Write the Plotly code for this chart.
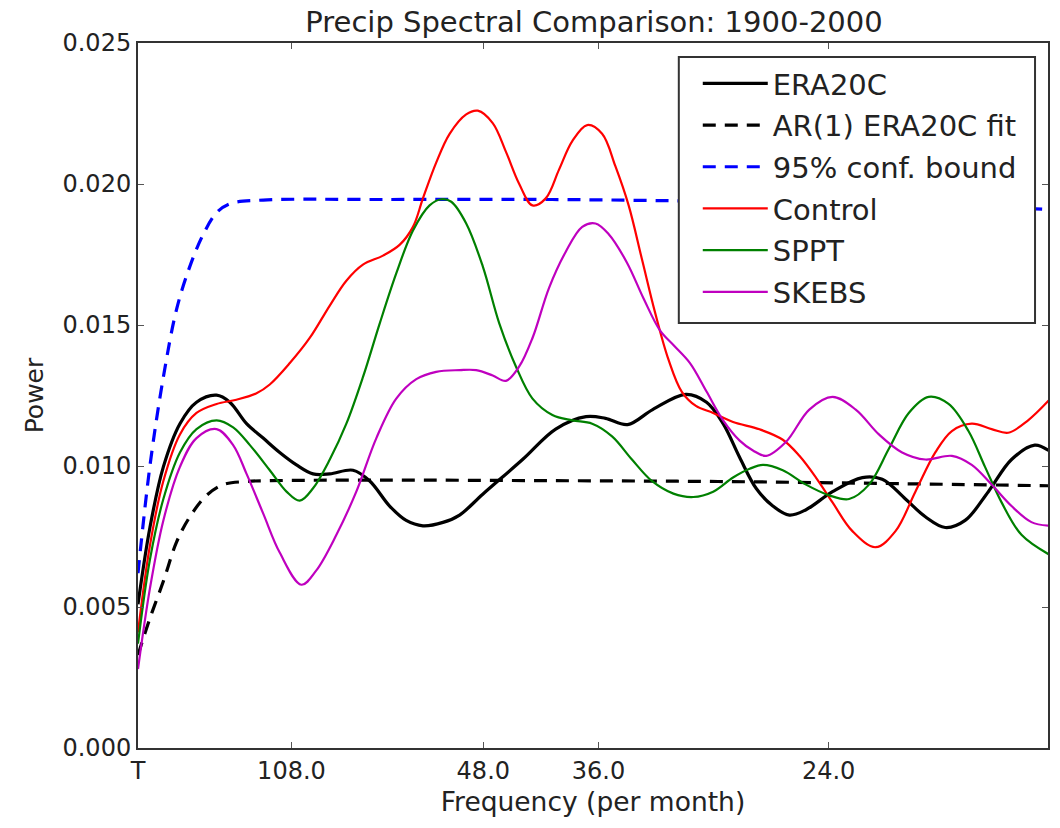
import numpy as np
import plotly.graph_objects as go

# frequencies in units of 1e-3 cycles/month, power in units of 1e-3
era_f = [0, 0.72, 1.53, 2.53, 3.53, 4.74, 5.54, 6.55, 7.55, 8.55, 9.56, 10.56, 11.57, 12.97, 13.98,
         15.18, 16.18, 17.19, 18.4, 19.4, 20.8, 23.2, 25.2, 27.03, 28.2, 29.54, 31.05, 33.05, 34.3,
         35.3, 36.3, 37.3, 38.3, 39.3, 40.3, 41.9, 43.7, 44.9, 46.3, 47.5, 48.7, 49.9, 51.3, 52.7,
         54.1, 54.94]
era_p = [5.1, 7.82, 9.97, 11.5, 12.26, 12.51, 12.26, 11.5, 10.99, 10.48, 10.04, 9.72, 9.72, 9.85, 9.47,
         8.58, 8.07, 7.88, 8.0, 8.26, 9.0, 10.23, 11.31, 11.75, 11.69, 11.47, 12.0, 12.54, 12.26,
         11.5, 10.3, 9.2, 8.58, 8.26, 8.45, 9.09, 9.59, 9.53, 8.83, 8.2, 7.82, 8.07, 9.09, 10.23,
         10.74, 10.55]

ar1_f = [0, 0.72, 1.53, 2.33, 3.13, 4.14, 5.14, 6.5, 8.0, 15, 25, 35, 45, 54.94]
ar1_p = [3.3, 4.6, 5.91, 7.31, 8.2, 8.96, 9.34, 9.45, 9.48, 9.5, 9.48, 9.45, 9.38, 9.3]

conf_f = [0, 0.72, 1.53, 2.33, 3.13, 3.94, 4.74, 5.54, 7.55, 15, 25, 33, 40, 48, 54.94]
conf_p = [6.2, 10.0, 13.15, 15.56, 17.08, 18.22, 18.98, 19.3, 19.43, 19.45, 19.45, 19.4, 19.35, 19.25, 19.1]

ctl_f = [0, 0.72, 1.53, 2.53, 3.53, 4.74, 5.94, 7.15, 7.95, 9.16, 10.36, 11.57, 12.57, 13.57, 14.78,
         15.78, 16.59, 17.19, 17.99, 18.8, 19.8, 20.5, 21.4, 22.2, 23.0, 23.8, 24.6, 25.4, 26.2,
         27.1, 28.0, 28.8, 29.6, 30.4, 31.2, 32.0, 32.8, 33.66, 34.7, 35.9, 37.5, 38.9, 39.9, 40.9,
         41.9, 43.1, 44.5, 45.7, 46.9, 48.1, 49.1, 50.3, 51.5, 52.5, 53.7, 54.94]
ctl_p = [4.1, 7.18, 9.47, 11.12, 11.88, 12.2, 12.35, 12.58, 12.89, 13.65, 14.54, 15.69, 16.57, 17.14, 17.46,
         17.84, 18.48, 19.49, 20.76, 21.78, 22.47, 22.6, 22.16, 21.14, 20.0, 19.24, 19.49, 20.51, 21.52,
         22.09, 21.78, 20.63, 19.24, 17.34, 15.43, 13.78, 12.64, 12.13, 11.88, 11.56, 11.3, 10.93, 10.36, 9.59,
         8.71, 7.69, 7.12, 7.69, 9.09, 10.48, 11.24, 11.5, 11.31, 11.18, 11.62, 12.32]

sppt_f = [0, 0.72, 1.53, 2.53, 3.53, 4.74, 5.74, 6.75, 7.95, 8.96, 9.76, 10.56, 11.57, 12.57, 13.57,
          14.58, 15.58, 16.59, 17.59, 18.3, 18.9, 19.8, 20.8, 21.8, 22.8, 23.8, 25.0, 26.2, 27.4,
          28.6, 29.8, 31.0, 32.3, 33.5, 34.7, 35.9, 36.9, 37.7, 38.9, 40.3, 41.7, 42.9, 44.1, 45.3,
          46.5, 47.7, 48.9, 50.1, 51.1, 52.1, 53.3, 54.94]
sppt_p = [3.7, 6.68, 8.83, 10.48, 11.31, 11.62, 11.37, 10.74, 9.85, 9.09, 8.77, 9.21, 10.23, 11.5, 13.15,
          15.05, 16.83, 18.35, 19.24, 19.46, 19.37, 18.6, 17.08, 15.05, 13.53, 12.39, 11.81, 11.62, 11.5,
          11.05, 10.23, 9.47, 9.02, 8.9, 9.09, 9.59, 9.9, 10.04, 9.85, 9.34, 8.96, 8.83, 9.34, 10.61,
          11.88, 12.45, 12.2, 11.24, 9.97, 8.71, 7.56, 6.87]

skebs_f = [0, 0.72, 1.53, 2.53, 3.53, 4.74, 5.74, 6.55, 7.55, 8.55, 9.86, 10.76, 11.97, 13.17, 14.38,
           15.58, 16.79, 17.99, 19.4, 20.4, 21.4, 22.2, 23.0, 23.8, 24.8, 25.8, 26.8, 27.6, 28.4,
           29.5, 30.5, 31.5, 32.3, 33.3, 34.3, 35.3, 36.3, 37.1, 37.9, 39.1, 40.5, 41.9, 43.3, 44.7,
           46.1, 47.5, 49.1, 50.3, 51.5, 52.7, 53.9, 54.94]
skebs_p = [2.8, 5.66, 8.07, 9.97, 10.99, 11.31, 10.74, 9.72, 8.32, 6.93, 5.79, 6.3, 7.56, 9.09, 10.99,
           12.39, 13.08, 13.34, 13.4, 13.4, 13.21, 13.02, 13.53, 14.54, 16.32, 17.59, 18.48, 18.6, 18.22,
           17.21, 15.94, 14.8, 14.29, 13.65, 12.64, 11.62, 10.9, 10.55, 10.36, 10.86, 12.0, 12.45, 12.0, 11.12,
           10.48, 10.23, 10.36, 10.04, 9.34, 8.58, 8.01, 7.88]

tick_periods = [108.0, 48.0, 36.0, 24.0]
tick_labels = ["T"] + [f"{p:.1f}" for p in tick_periods]
tick_vals = [0.0] + [1.0 / p for p in tick_periods]

S = 1e-3
FONT = "DejaVu Sans"
TXT = "#222222"

def tr(name, fx, py, color, width, dash=None):
    return go.Scatter(x=np.array(fx) * S, y=np.array(py) * S, mode="lines", name=name,
                      legendgroup=name,
                      line=dict(color=color, width=width, dash=dash, shape="spline", smoothing=1.0))

fig = go.Figure()
fig.add_trace(tr("ERA20C", era_f, era_p, "black", 3.2))
fig.add_trace(tr("AR(1) ERA20C fit", ar1_f, ar1_p, "black", 3.2, "13px,9px"))
fig.add_trace(tr("95% conf. bound", conf_f, conf_p, "#0000ff", 3.2, "13px,9px"))
fig.add_trace(tr("Control", ctl_f, ctl_p, "#ff0000", 2.2))
fig.add_trace(tr("SPPT", sppt_f, sppt_p, "#008000", 2.2))
fig.add_trace(tr("SKEBS", skebs_f, skebs_p, "#bf00bf", 2.2))

axis_common = dict(showline=True, linecolor="#333333", linewidth=2, mirror="ticks",
                   ticks="inside", ticklen=6, tickwidth=1, tickcolor="#555555",
                   showgrid=False, zeroline=False,
                   tickfont=dict(family=FONT, size=24, color=TXT))

# plot area in pixels: left 138, right 1050, top 43, bottom 748
PL, PR, PT, PB = 138, 1050, 43, 748
def px_x(p): return (p - PL) / (PR - PL)
def px_y(p): return (PB - p) / (PB - PT)

# legend frame (white box with dark border, like matplotlib's legend patch)
fig.add_shape(type="rect", xref="paper", yref="paper",
              x0=px_x(680), x1=px_x(1037), y0=px_y(323), y1=px_y(57),
              fillcolor="white", line=dict(color="#333333", width=2), layer="above")

fig.update_layout(
    width=1060, height=828,
    margin=dict(l=PL, r=1060 - PR, t=PT, b=828 - PB),
    paper_bgcolor="white", plot_bgcolor="white",
    title=dict(text="Precip Spectral Comparison: 1900-2000", x=(PL + PR) / 2 / 1060, xanchor="center",
               y=1 - 22 / 828, yanchor="middle",
               font=dict(family=FONT, size=29, color=TXT)),
    xaxis=dict(range=[0, 0.0549], tickvals=tick_vals, ticktext=tick_labels,
               title=dict(text="Frequency (per month)", font=dict(family=FONT, size=26.5, color=TXT), standoff=9),
               **axis_common),
    yaxis=dict(range=[0, 0.025], tickvals=[0, 0.005, 0.010, 0.015, 0.020, 0.025],
               ticktext=["0.000", "0.005", "0.010", "0.015", "0.020", "0.025"],
               title=dict(text="Power", font=dict(family=FONT, size=25, color=TXT), standoff=12),
               **axis_common),
    legend=dict(x=px_x(699), y=px_y(58), xanchor="left", yanchor="top",
                bgcolor="rgba(0,0,0,0)", borderwidth=0,
                font=dict(family=FONT, size=29, color=TXT), tracegroupgap=1, itemwidth=65),
    showlegend=True,
)

fig.write_html("out.html")
